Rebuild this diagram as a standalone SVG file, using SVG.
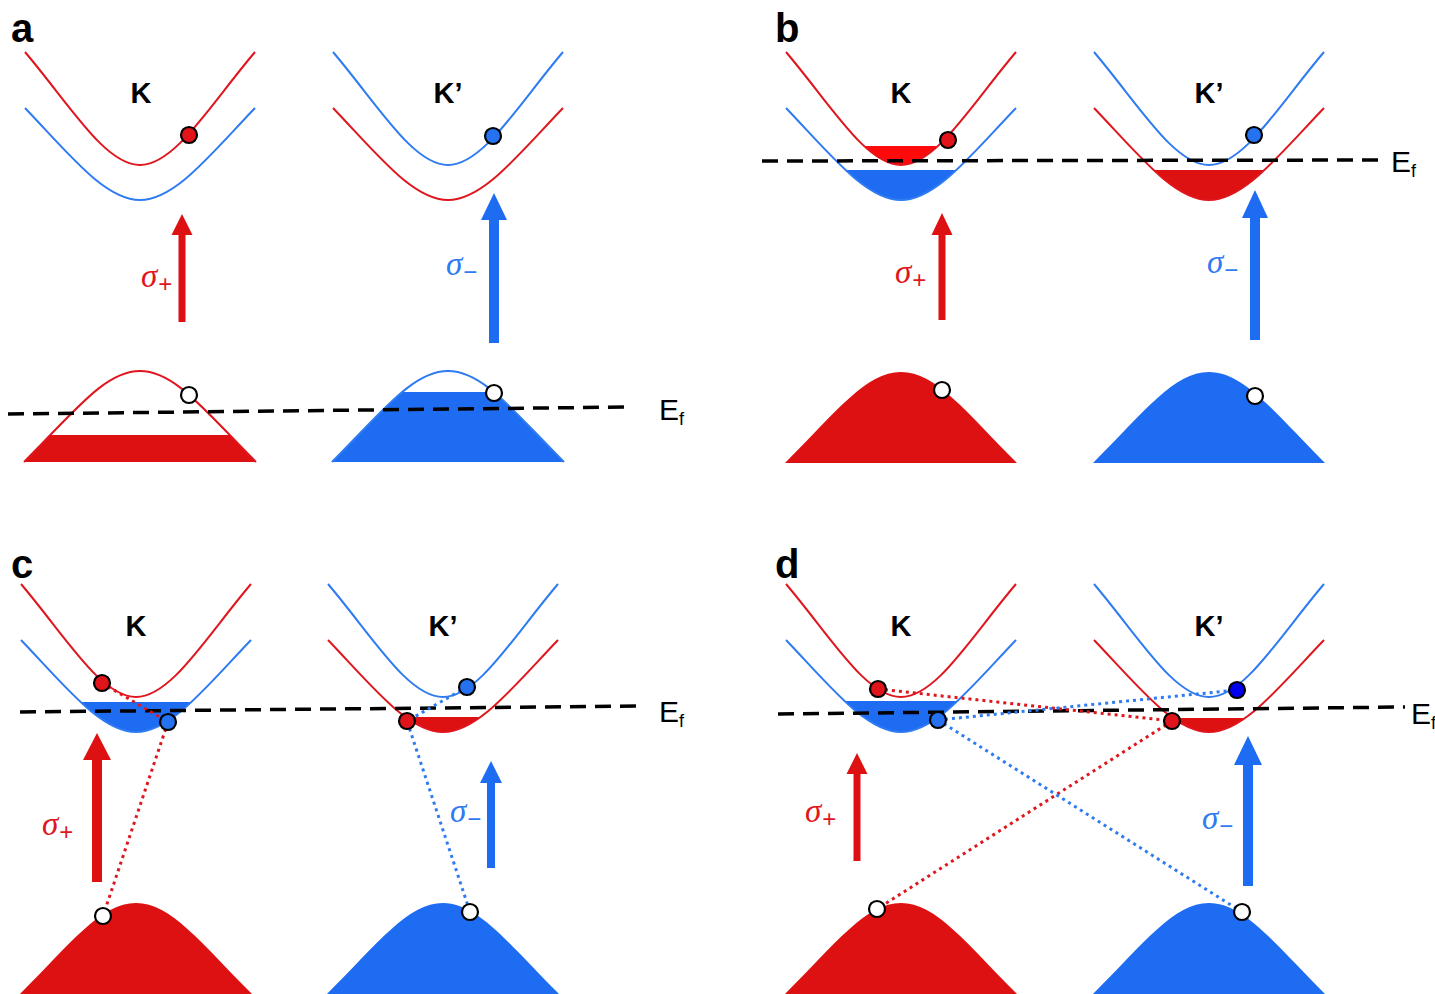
<svg xmlns="http://www.w3.org/2000/svg" xmlns:xlink="http://www.w3.org/1999/xlink" width="1435" height="994" viewBox="0 0 1435 994">
<style>
.rl{fill:none;stroke:#E0161E;stroke-width:2}
.bl{fill:none;stroke:#2F7BF2;stroke-width:2}
.rf{fill:#DD1111;stroke:none}
.rf2{fill:#FF0A0A;stroke:none}
.bf{fill:#1E6CF2;stroke:none}
.ef{fill:none;stroke:#000;stroke-width:3.5;stroke-dasharray:16 9}
.dot{stroke:#000;stroke-width:2.2}
.rd{fill:#E0141A}
.bd{fill:#2472F0}
.bd2{fill:#0000EE}
.hole{fill:#fff}
.lab{font-family:"Liberation Sans",Arial,sans-serif;font-weight:bold;font-size:29px;text-anchor:middle;fill:#000}
.pl{font-family:"Liberation Sans",Arial,sans-serif;font-weight:bold;font-size:40px;fill:#000}
.efl{font-family:"Liberation Sans",Arial,sans-serif;font-size:30px;fill:#000}
.efs{font-size:18px}
.sig{font-family:"Liberation Serif","DejaVu Serif",serif;font-style:italic;font-size:33px}
.sub{font-family:"Liberation Sans",Arial,sans-serif;font-style:normal;font-size:24px}
.red{fill:#E0161E}
.blue{fill:#2F7BF2}
.rdt{fill:none;stroke:#E0161E;stroke-width:3;stroke-dasharray:3 4}
.bdt{fill:none;stroke:#2F7BF2;stroke-width:3;stroke-dasharray:3 4}
</style>
<defs>
<path id="U" d="M-115,-113 C-70,-60 -35,0 0,0 C35,0 70,-60 115,-113"/>
<path id="Uc" d="M-115,-113 C-70,-60 -35,0 0,0 C35,0 70,-60 115,-113 Z"/>
<path id="L" d="M-115,-92 C-70,-45 -35,0 0,0 C35,0 70,-45 115,-92"/>
<path id="Lc" d="M-115,-92 C-70,-45 -35,0 0,0 C35,0 70,-45 115,-92 Z"/>
<path id="V" d="M-116,91 C-65,40 -35,0 0,0 C35,0 65,40 116,91"/>
<path id="Vc" d="M-116,91 C-65,40 -35,0 0,0 C35,0 65,40 116,91 Z"/>
<clipPath id="cpU19"><rect x="-130" y="-19" width="260" height="40"/></clipPath>
<clipPath id="cpL5"><rect x="-130" y="5" width="260" height="60"/></clipPath>
<clipPath id="cpL4"><rect x="-130" y="4" width="260" height="60"/></clipPath>
<clipPath id="cpL20"><rect x="-130" y="20" width="260" height="60"/></clipPath>
<clipPath id="cpL21"><rect x="-130" y="21" width="260" height="60"/></clipPath>
<clipPath id="cpV64"><rect x="-130" y="64" width="260" height="40"/></clipPath>
<clipPath id="cpV21"><rect x="-130" y="21" width="260" height="80"/></clipPath>
</defs>
<rect width="1435" height="994" fill="#fff"/>

<!-- Panel a -->
<g id="panel-a">
<text class="pl" x="11" y="42">a</text>
<g id="a-K" transform="translate(140,165)">
<use xlink:href="#U" class="rl"/>
<use xlink:href="#L" y="35" class="bl"/>
</g>
<text id="a-K-label" class="lab" x="141" y="103">K</text>
<g id="a-Kp" transform="translate(448,165)">
<use xlink:href="#U" class="bl"/>
<use xlink:href="#L" y="35" class="rl"/>
</g>
<text id="a-Kp-label" class="lab" x="448" y="103">K’</text>
<g id="a-VK" transform="translate(140,371)">
<g clip-path="url(#cpV64)"><use xlink:href="#Vc" class="rf"/></g>
<use xlink:href="#V" class="rl"/>
</g>
<g id="a-VKp" transform="translate(448,371)">
<g clip-path="url(#cpV21)"><use xlink:href="#Vc" class="bf"/></g>
<use xlink:href="#V" class="bl"/>
</g>
<line class="ef" x1="8" y1="414" x2="632" y2="407"/>
<text class="efl" x="659" y="420">E<tspan class="efs" dy="5">f</tspan></text>
<g id="a-arrow-red"><path class="rf" d="M178.5,322 V235 H171.5 L182,214 L192.5,235 H185.5 V322 Z"/>
<text class="sig red" x="141" y="287">σ<tspan class="sub" dx="1" dy="5">+</tspan></text></g>
<g id="a-arrow-blue"><path class="bf" d="M489,343 V220 H481 L494,193 L507,220 H499 V343 Z"/>
<text class="sig blue" x="446" y="275">σ<tspan class="sub" dx="1" dy="5">−</tspan></text></g>
<circle id="a-e1" class="dot rd" cx="189" cy="135" r="8"/>
<circle id="a-e2" class="dot bd" cx="493" cy="136" r="8"/>
<circle id="a-h1" class="dot hole" cx="189" cy="395" r="8"/>
<circle id="a-h2" class="dot hole" cx="494" cy="393" r="8"/>
</g>

<!-- Panel b -->
<g id="panel-b">
<text class="pl" x="775" y="42">b</text>
<g id="b-K" transform="translate(901,165)">
<g clip-path="url(#cpU19)"><use xlink:href="#Uc" class="rf2"/></g>
<g clip-path="url(#cpL5)"><use xlink:href="#Lc" y="35" class="bf"/></g>
<use xlink:href="#U" class="rl"/>
<use xlink:href="#L" y="35" class="bl"/>
</g>
<text id="b-K-label" class="lab" x="901" y="103">K</text>
<g id="b-Kp" transform="translate(1209,165)">
<g clip-path="url(#cpL5)"><use xlink:href="#Lc" y="35" class="rf"/></g>
<use xlink:href="#U" class="bl"/>
<use xlink:href="#L" y="35" class="rl"/>
</g>
<text id="b-Kp-label" class="lab" x="1209" y="103">K’</text>
<g id="b-VK" transform="translate(901,372)"><use xlink:href="#Vc" class="rf"/></g>
<g id="b-VKp" transform="translate(1209,372)"><use xlink:href="#Vc" class="bf"/></g>
<line class="ef" x1="762" y1="161" x2="1385" y2="160"/>
<text class="efl" x="1391" y="172">E<tspan class="efs" dy="5">f</tspan></text>
<g id="b-arrow-red"><path class="rf" d="M938.5,320 V235 H931.5 L942,213 L952.5,235 H945.5 V320 Z"/>
<text class="sig red" x="895" y="283">σ<tspan class="sub" dx="1" dy="5">+</tspan></text></g>
<g id="b-arrow-blue"><path class="bf" d="M1250,340 V218 H1242 L1255,190 L1268,218 H1260 V340 Z"/>
<text class="sig blue" x="1207" y="273">σ<tspan class="sub" dx="1" dy="5">−</tspan></text></g>
<circle id="b-e1" class="dot rd" cx="948" cy="140" r="8"/>
<circle id="b-e2" class="dot bd" cx="1254" cy="135" r="8"/>
<circle id="b-h1" class="dot hole" cx="942" cy="390" r="8"/>
<circle id="b-h2" class="dot hole" cx="1255" cy="396" r="8"/>
</g>

<!-- Panel c -->
<g id="panel-c">
<text class="pl" x="11" y="578">c</text>
<g id="c-K" transform="translate(136,697)">
<g clip-path="url(#cpL5)"><use xlink:href="#Lc" y="35" class="bf"/></g>
<use xlink:href="#U" class="rl"/>
<use xlink:href="#L" y="35" class="bl"/>
</g>
<text id="c-K-label" class="lab" x="136" y="636">K</text>
<g id="c-Kp" transform="translate(443,697)">
<g clip-path="url(#cpL20)"><use xlink:href="#Lc" y="35" class="rf"/></g>
<use xlink:href="#U" class="bl"/>
<use xlink:href="#L" y="35" class="rl"/>
</g>
<text id="c-Kp-label" class="lab" x="443" y="636">K’</text>
<g id="c-VK" transform="translate(136,903)"><use xlink:href="#Vc" class="rf"/></g>
<g id="c-VKp" transform="translate(443,903)"><use xlink:href="#Vc" class="bf"/></g>
<line class="ef" x1="20" y1="712" x2="643" y2="706"/>
<text class="efl" x="659" y="722">E<tspan class="efs" dy="5">f</tspan></text>
<g id="c-arrow-red"><path class="rf" d="M92,882 V760 H83 L97,733 L111,760 H102 V882 Z"/>
<text class="sig red" x="42" y="835">σ<tspan class="sub" dx="1" dy="5">+</tspan></text></g>
<g id="c-arrow-blue"><path class="bf" d="M487,868 V783 H480 L491,761 L502,783 H495 V868 Z"/>
<text class="sig blue" x="450" y="822">σ<tspan class="sub" dx="1" dy="5">−</tspan></text></g>
</g>

<!-- Panel d -->
<g id="panel-d">
<text class="pl" x="775" y="578">d</text>
<g id="d-K" transform="translate(901,697)">
<g clip-path="url(#cpL4)"><use xlink:href="#Lc" y="35" class="bf"/></g>
<use xlink:href="#U" class="rl"/>
<use xlink:href="#L" y="35" class="bl"/>
</g>
<text id="d-K-label" class="lab" x="901" y="636">K</text>
<g id="d-Kp" transform="translate(1209,697)">
<g clip-path="url(#cpL21)"><use xlink:href="#Lc" y="35" class="rf"/></g>
<use xlink:href="#U" class="bl"/>
<use xlink:href="#L" y="35" class="rl"/>
</g>
<text id="d-Kp-label" class="lab" x="1209" y="636">K’</text>
<g id="d-VK" transform="translate(901,903)"><use xlink:href="#Vc" class="rf"/></g>
<g id="d-VKp" transform="translate(1209,903)"><use xlink:href="#Vc" class="bf"/></g>
<line class="ef" x1="778" y1="714" x2="1405" y2="707"/>
<text class="efl" x="1411" y="724">E<tspan class="efs" dy="5">f</tspan></text>
<g id="d-arrow-red"><path class="rf" d="M853.5,861 V774 H846.5 L857,753 L867.5,774 H860.5 V861 Z"/>
<text class="sig red" x="805" y="822">σ<tspan class="sub" dx="1" dy="5">+</tspan></text></g>
<g id="d-arrow-blue"><path class="bf" d="M1243,886 V765 H1234 L1248,736 L1262,765 H1253 V886 Z"/>
<text class="sig blue" x="1202" y="829">σ<tspan class="sub" dx="1" dy="5">−</tspan></text></g>
</g>

<!-- Connectors -->
<g id="connectors">
<polyline class="rdt" points="102,683 168,722 103,916"/>
<polyline class="bdt" points="467,687 407,721 470,912"/>
<line class="rdt" x1="878" y1="689" x2="1172" y2="721"/>
<line class="rdt" x1="1172" y1="721" x2="877" y2="909"/>
<line class="bdt" x1="938" y1="720" x2="1237" y2="690"/>
<line class="bdt" x1="938" y1="720" x2="1242" y2="912"/>
</g>

<!-- Carriers c/d -->
<g id="c-carriers">
<circle id="c-e1" class="dot rd" cx="102" cy="683" r="8"/>
<circle id="c-e2" class="dot bd" cx="168" cy="722" r="8"/>
<circle id="c-e3" class="dot bd" cx="467" cy="687" r="8"/>
<circle id="c-e4" class="dot rd" cx="407" cy="721" r="8"/>
<circle id="c-h1" class="dot hole" cx="103" cy="916" r="8"/>
<circle id="c-h2" class="dot hole" cx="470" cy="912" r="8"/>
</g>
<g id="d-carriers">
<circle id="d-e1" class="dot rd" cx="878" cy="689" r="8"/>
<circle id="d-e2" class="dot bd" cx="938" cy="720" r="8"/>
<circle id="d-e3" class="dot bd2" cx="1237" cy="690" r="8"/>
<circle id="d-e4" class="dot rd" cx="1172" cy="721" r="8"/>
<circle id="d-h1" class="dot hole" cx="877" cy="909" r="8"/>
<circle id="d-h2" class="dot hole" cx="1242" cy="912" r="8"/>
</g>
</svg>
